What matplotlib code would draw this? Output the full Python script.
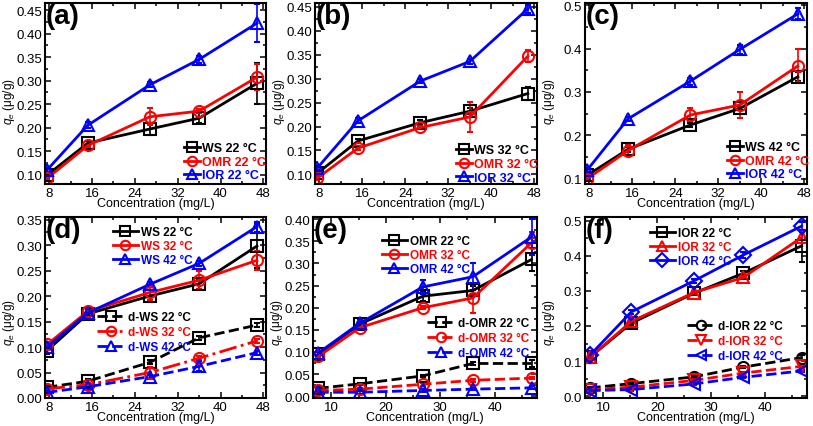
import numpy as np
import matplotlib.pyplot as plt
from matplotlib.ticker import MultipleLocator, AutoMinorLocator

plt.rcParams['font.family'] = ['Liberation Sans', 'DejaVu Sans']
plt.rcParams['mathtext.fontset'] = 'custom'
plt.rcParams['mathtext.it'] = 'Liberation Sans:italic'
plt.rcParams['mathtext.rm'] = 'Liberation Sans'

conc = [7.6, 15.2, 26.8, 36.0, 46.8]

# (a) 22 °C
ws22 = [0.099, 0.167, 0.197, 0.220, 0.294]
ws22_err = [0.004, 0.005, 0.012, 0.010, 0.043]
omr22 = [0.092, 0.162, 0.223, 0.235, 0.307]
omr22_err = [0.004, 0.004, 0.018, 0.005, 0.028]
ior22 = [0.110, 0.205, 0.291, 0.345, 0.422]
ior22_err = [0.004, 0.006, 0.005, 0.008, 0.040]

# (b) 32 °C
ws32 = [0.102, 0.170, 0.208, 0.232, 0.269]
ws32_err = [0.004, 0.004, 0.005, 0.006, 0.013]
omr32 = [0.092, 0.155, 0.198, 0.220, 0.347]
omr32_err = [0.004, 0.004, 0.004, 0.031, 0.012]
ior32 = [0.113, 0.212, 0.295, 0.336, 0.446]
ior32_err = [0.004, 0.005, 0.005, 0.005, 0.008]

# (c) 42 °C
ws42 = [0.108, 0.168, 0.224, 0.262, 0.335]
ws42_err = [0.004, 0.006, 0.004, 0.004, 0.010]
omr42 = [0.100, 0.165, 0.247, 0.270, 0.360]
omr42_err = [0.004, 0.012, 0.015, 0.030, 0.038]
ior42 = [0.120, 0.238, 0.325, 0.398, 0.480]
ior42_err = [0.005, 0.005, 0.008, 0.010, 0.013]

# (d) WS and desorption
ws_d = [[0.093, 0.165, 0.200, 0.224, 0.298],
        [0.105, 0.170, 0.207, 0.231, 0.270],
        [0.100, 0.167, 0.223, 0.264, 0.336]]
ws_d_err = [[0.006, 0.004, 0.012, 0.010, 0.043],
            [0.004, 0.004, 0.015, 0.018, 0.018],
            [0.004, 0.008, 0.005, 0.005, 0.010]]
dws = [[0.021, 0.033, 0.070, 0.118, 0.143],
       [0.018, 0.026, 0.050, 0.078, 0.112],
       [0.011, 0.022, 0.042, 0.062, 0.089]]
dws_err = [[0.004, 0.004, 0.004, 0.004, 0.004],
           [0.004, 0.004, 0.010, 0.004, 0.004],
           [0.004, 0.004, 0.004, 0.010, 0.004]]

# (e) OMR and desorption
omr_d = [[0.095, 0.163, 0.226, 0.239, 0.309],
         [0.090, 0.155, 0.200, 0.222, 0.347],
         [0.098, 0.165, 0.247, 0.270, 0.360]]
omr_d_err = [[0.004, 0.004, 0.010, 0.010, 0.025],
             [0.004, 0.004, 0.004, 0.033, 0.025],
             [0.004, 0.010, 0.016, 0.030, 0.040]]
domr = [[0.018, 0.028, 0.046, 0.074, 0.074],
        [0.013, 0.016, 0.027, 0.036, 0.041],
        [0.009, 0.009, 0.013, 0.016, 0.019]]
domr_err = [[0.003, 0.003, 0.003, 0.003, 0.008],
            [0.003, 0.003, 0.003, 0.003, 0.003],
            [0.003, 0.003, 0.003, 0.003, 0.003]]

# (f) IOR and desorption
ior_d = [[0.112, 0.208, 0.293, 0.350, 0.428],
         [0.112, 0.213, 0.295, 0.338, 0.452],
         [0.118, 0.240, 0.328, 0.402, 0.484]]
ior_d_err = [[0.005, 0.005, 0.005, 0.005, 0.045],
             [0.005, 0.005, 0.005, 0.005, 0.015],
             [0.005, 0.005, 0.005, 0.008, 0.012]]
dior = [[0.024, 0.036, 0.055, 0.083, 0.110],
        [0.019, 0.026, 0.045, 0.066, 0.085],
        [0.016, 0.019, 0.035, 0.054, 0.072]]
dior_err = [[0.003, 0.003, 0.003, 0.003, 0.006],
            [0.003, 0.003, 0.003, 0.003, 0.003],
            [0.003, 0.003, 0.003, 0.003, 0.003]]

temps = ['22 °C', '32 °C', '42 °C']
colors = ['black', 'red', 'blue']

fig = plt.figure(figsize=(8.13, 4.27), dpi=100)
W, H = 813, 427

def make_ax(left, right, top, bottom):
    return fig.add_axes([left / W, 1 - bottom / H, (right - left) / W, (bottom - top) / H])

def style(ax, label, xlim, ylim, xmaj, ymaj, yfmt, ylab_y):
    ax.set_xlim(*xlim)
    ax.set_ylim(*ylim)
    ax.xaxis.set_major_locator(MultipleLocator(xmaj))
    ax.yaxis.set_major_locator(MultipleLocator(ymaj))
    ax.xaxis.set_minor_locator(AutoMinorLocator(2))
    ax.yaxis.set_minor_locator(AutoMinorLocator(2))
    ax.yaxis.set_major_formatter(plt.FormatStrFormatter(yfmt))
    ax.tick_params(which='both', direction='in', top=True, right=True, labelsize=9.5,
                   width=1.1, pad=2)
    ax.tick_params(which='major', length=4)
    ax.tick_params(which='minor', length=2)
    for s in ax.spines.values():
        s.set_linewidth(1.5)
    ax.set_xlabel('Concentration (mg/L)', fontsize=9, labelpad=-1)
    ax.set_ylabel('$q_e$ (μg/g)', fontsize=8.5)
    # right edge of the rotated label about 28 px left of the spine
    ax.yaxis.set_label_coords(-28 / (ax.get_position().width * W), ylab_y)
    ax.text(0.005, 1.0, label, transform=ax.transAxes, fontsize=20, fontweight='bold',
            va='top', ha='left')

def series(ax, y, err, color, marker, ls='-'):
    c = ax.errorbar(conc, y, yerr=err, color=color, marker=marker, ls=ls, lw=2,
                    markersize=8, markerfacecolor='none', markeredgewidth=1.5,
                    capsize=2.5, elinewidth=1.2)
    return c[0]

def legend(ax, handles, labels, x, y, size, hlen, hpad, lspace):
    leg = ax.legend(handles, labels, loc='center left', bbox_to_anchor=(x / W, 1 - y / H),
                    bbox_transform=fig.transFigure, frameon=False,
                    prop={'weight': 'bold', 'size': size}, handlelength=hlen,
                    handletextpad=hpad, labelspacing=lspace, borderpad=0,
                    borderaxespad=0, markerscale=0.85)
    for t, c in zip(leg.get_texts(), colors):
        t.set_color(c)
    return leg

top_row = [(45, 266), (315, 537), (585, 807)]
top_leg = [(184, 163), (456, 165), (727, 162)]
panels = [
    ('(a)', [ws22, omr22, ior22], [ws22_err, omr22_err, ior22_err], '22 °C', (0.08, 0.465), 0.05, '%.2f'),
    ('(b)', [ws32, omr32, ior32], [ws32_err, omr32_err, ior32_err], '32 °C', (0.08, 0.458), 0.05, '%.2f'),
    ('(c)', [ws42, omr42, ior42], [ws42_err, omr42_err, ior42_err], '42 °C', (0.088, 0.505), 0.1, '%.1f'),
]
for (l, r), (lx, ly), (lab, ys, es, t, ylim, ym, fmt) in zip(top_row, top_leg, panels):
    ax = make_ax(l, r, 4, 185)
    hs = []
    for y, e, c, m in zip(ys, es, colors, ['s', 'o', '^']):
        hs.append(series(ax, y, e, c, m))
    style(ax, lab, (7.2, 48.5), ylim, 8, ym, fmt, 0.46)
    legend(ax, hs, [f'{n} {t}' for n in ['WS', 'OMR', 'IOR']], lx, ly, 9, 1.3, 0.15, 0.12)

bottom_row = [(45, 266), (313, 537), (585, 807)]
bot_leg = [((113, 247), (97, 333)), ((382, 256), (427, 339)), ((650, 248), (687, 342))]
panels2 = [
    ('(d)', 'WS', ws_d, ws_d_err, dws, dws_err, ['s', 'o', '^'], ['s', 'o', '^'],
     ['--', '-.', '--'], (7.2, 48.5), 8, (0, 0.355), 0.05, '%.2f'),
    ('(e)', 'OMR', omr_d, omr_d_err, domr, domr_err, ['s', 'o', '^'], ['s', 'o', '^'],
     ['--', '--', '--'], (6.6, 47.8), 10, (-0.004, 0.405), 0.05, '%.2f'),
    ('(f)', 'IOR', ior_d, ior_d_err, dior, dior_err, ['s', '^', 'D'], ['o', 'v', '<'],
     ['--', '--', '--'], (6.6, 47.8), 10, (-0.005, 0.51), 0.1, '%.1f'),
]
for (l, r), (p1, p2), (lab, name, ys, es, ds, des, mk, dmk, dls, xlim, xm, ylim, ym, fmt) in zip(bottom_row, bot_leg, panels2):
    ax = make_ax(l, r, 218, 399)
    h1 = [series(ax, ys[i], es[i], colors[i], mk[i]) for i in range(3)]
    h2 = [series(ax, ds[i], des[i], colors[i], dmk[i], ls=dls[i]) for i in range(3)]
    style(ax, lab, xlim, ylim, xm, ym, fmt, 0.42)
    leg1 = legend(ax, h1, [f'{name} {t}' for t in temps], p1[0], p1[1], 8.5, 2.1, 0.3, 0.2)
    ax.add_artist(leg1)
    legend(ax, h2, [f'd-{name} {t}' for t in temps], p2[0], p2[1], 8.5, 2.3, 0.3, 0.25)

fig.savefig('out.png', dpi=100)
